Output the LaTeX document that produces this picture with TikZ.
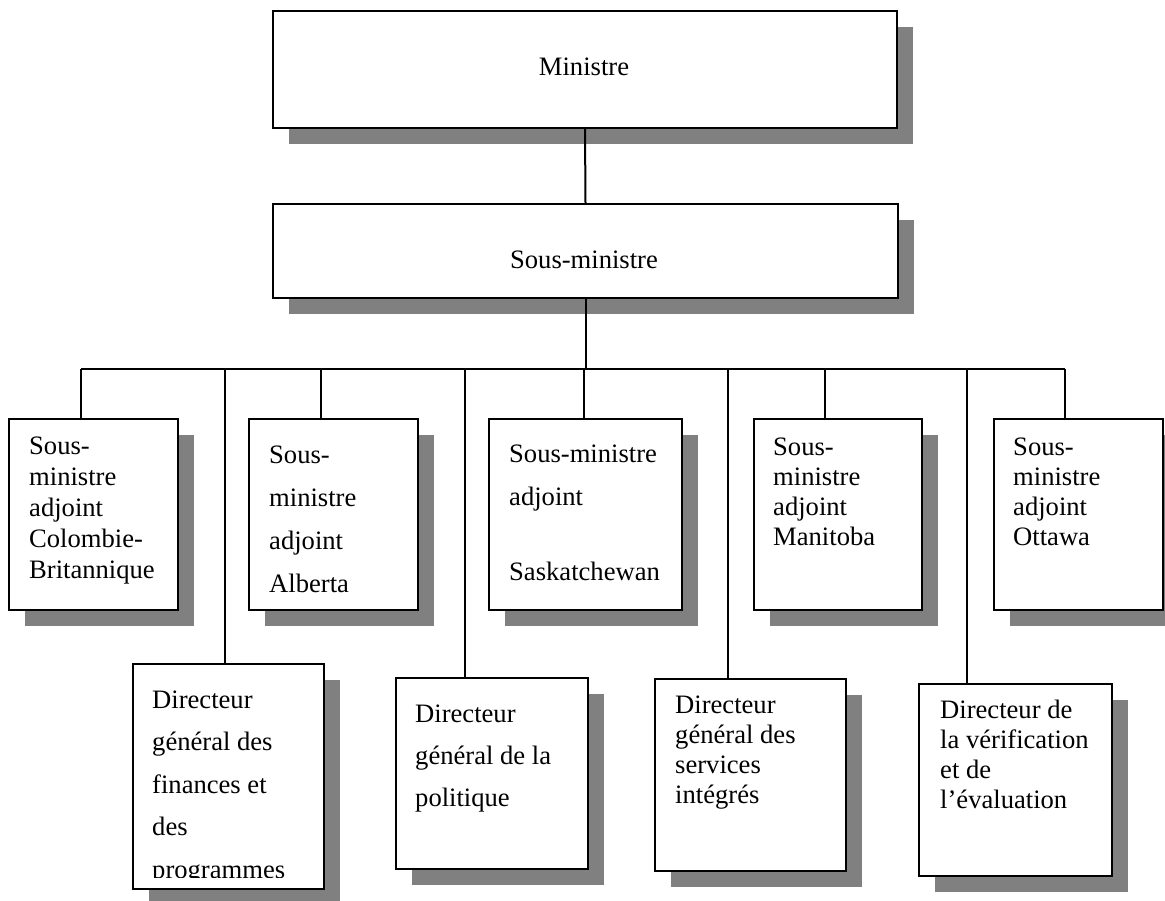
\documentclass[tikz,border=0pt]{standalone}
\usepackage{fontspec}
\setmainfont{Liberation Serif}
\usetikzlibrary{shadows,calc}
\newcommand\boxtext[2]{\parbox[t]{300pt}{\fontsize{26.6pt}{#1}\selectfont #2}}
\tikzset{
  orgbox/.style={draw=black, line width=2pt, fill=white, inner sep=0pt, anchor=north west,
    drop shadow={shadow xshift=16pt, shadow yshift=-16pt, opacity=1, fill=shadowgray}},
  txt/.style={anchor=base west, inner sep=0pt, font=\fontsize{26.6pt}{31pt}\selectfont},
  ctxt/.style={anchor=base, inner sep=0pt, font=\fontsize{26.6pt}{31pt}\selectfont},
  conn/.style={draw=black, line width=2pt}
}
\definecolor{shadowgray}{RGB}{128,128,128}
\begin{document}
\begin{tikzpicture}[x=1pt,y=-1pt]
\useasboundingbox (0,0) rectangle (1165,900);
\fill[white] (0,0) rectangle (1165,900);
% top boxes
\node[orgbox, minimum width=624pt, minimum height=117pt] (min) at (272,10) {};
\node[ctxt] (mint) at (584,75) {Ministre};
\node[orgbox, minimum width=625pt, minimum height=94pt] (sm) at (272,203) {};
\node[ctxt] (smt) at (584,268) {Sous-ministre};
% first row
\node[orgbox, minimum width=169pt, minimum height=191pt] (cb) at (8,418) {};
\node[orgbox, minimum width=169pt, minimum height=191pt] (ab) at (248,418) {};
\node[orgbox, minimum width=193pt, minimum height=191pt] (sk) at (488,418) {};
\node[orgbox, minimum width=168pt, minimum height=191pt] (mb) at (753,418) {};
\node[orgbox, minimum width=169pt, minimum height=191pt] (ot) at (993,418) {};
\node[txt] (cbt) at (29,454) {\boxtext{31pt}{Sous-\\ministre\\adjoint\\Colombie-\\Britannique}};
\node[txt] (abt) at (269,463) {\boxtext{43pt}{Sous-\\ministre\\adjoint\\Alberta}};
\node[txt] (skt) at (509,462) {\boxtext{43pt}{Sous-ministre\\adjoint\\[32pt]Saskatchewan}};
\node[txt] (mbt) at (773,455) {\boxtext{30pt}{Sous-\\ministre\\adjoint\\Manitoba}};
\node[txt] (ott) at (1013,455) {\boxtext{30pt}{Sous-\\ministre\\adjoint\\Ottawa}};
% second row
\node[orgbox, minimum width=191pt, minimum height=225pt] (fin) at (132,663) {};
\node[orgbox, minimum width=192pt, minimum height=191pt] (pol) at (395,677) {};
\node[orgbox, minimum width=191pt, minimum height=192pt] (ser) at (654,678) {};
\node[orgbox, minimum width=193pt, minimum height=192pt] (ver) at (918,683) {};
\begin{scope}
\clip (132,663) rectangle (323,877);
\node[txt] (fint) at (152,708) {\boxtext{42.5pt}{Directeur\\général des\\finances et\\des\\programmes}};
\end{scope}
\node[txt] (polt) at (415,722) {\boxtext{42pt}{Directeur\\général de la\\politique}};
\node[txt] (sert) at (675,713) {\boxtext{30pt}{Directeur\\général des\\services\\intégrés}};
\node[txt] (vert) at (940,718) {\boxtext{30pt}{Directeur de\\la vérification\\et de\\l’évaluation}};
% bus coordinates
\coordinate (busL) at (81,369);
\coordinate (busR) at (1065,369);
\coordinate (t2) at (321,369);
\coordinate (t3) at (584,369);
\coordinate (t4) at (825,369);
\coordinate (d1) at (225,369);
\coordinate (d2) at (465,369);
\coordinate (d3) at (728,369);
\coordinate (d4) at (967,369);
% connectors
\draw[conn] (min.south) -- (sm.north);
\draw[conn] (sm.south) -- (sm.south |- busL);
\draw[conn] (busL) -- (busR);
\draw[conn] (busL) -- (busL |- cb.north);
\draw[conn] (t2) -- (t2 |- ab.north);
\draw[conn] (t3) -- (t3 |- sk.north);
\draw[conn] (t4) -- (t4 |- mb.north);
\draw[conn] (busR) -- (busR |- ot.north);
\draw[conn] (d1) -- (d1 |- fin.north);
\draw[conn] (d2) -- (d2 |- pol.north);
\draw[conn] (d3) -- (d3 |- ser.north);
\draw[conn] (d4) -- (d4 |- ver.north);
\end{tikzpicture}
\end{document}
